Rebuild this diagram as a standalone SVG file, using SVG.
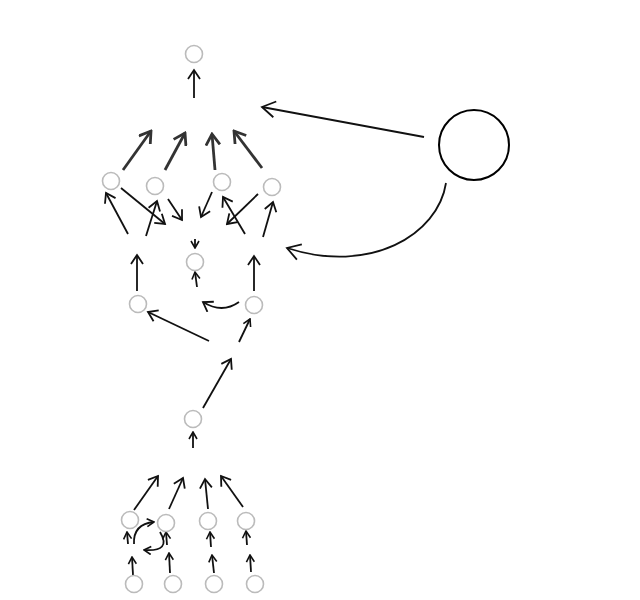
<svg xmlns="http://www.w3.org/2000/svg" width="640" height="600" viewBox="0 0 640 600">
<style>
.n{fill:#fff;stroke:#bbb;stroke-width:1.6}
.e{fill:none;stroke:#111;stroke-width:1.8}
.t{fill:none;stroke:#333;stroke-width:2.8}
</style>
<defs>
<marker id="a" markerUnits="userSpaceOnUse" markerWidth="12" markerHeight="14" refX="10" refY="7" orient="auto" viewBox="0 0 12 14"><path d="M1,1 L10,7 L1,13" fill="none" stroke="#111" stroke-width="1.8"/></marker>
<marker id="s" markerUnits="userSpaceOnUse" markerWidth="9" markerHeight="10" refX="8" refY="5" orient="auto" viewBox="0 0 9 10"><path d="M1,1 L8,5 L1,9" fill="none" stroke="#111" stroke-width="1.6"/></marker>
<marker id="b" markerUnits="userSpaceOnUse" markerWidth="16" markerHeight="18" refX="14" refY="9" orient="auto" viewBox="0 0 16 18"><path d="M1,1 L14,9 L1,17" fill="none" stroke="#111" stroke-width="1.8"/></marker>
<marker id="t" markerUnits="userSpaceOnUse" markerWidth="14" markerHeight="16" refX="12" refY="8" orient="auto" viewBox="0 0 14 16"><path d="M1,1 L12,8 L1,15" fill="none" stroke="#333" stroke-width="2.8"/></marker>
</defs>
<rect width="640" height="600" fill="#fff"/>
<g id="connectors">
<path class="e" d="M194,98 L194,70" marker-end="url(#a)"/>
<path class="t" d="M123,170 L151,131" marker-end="url(#t)"/>
<path class="t" d="M165,170 L185,133" marker-end="url(#t)"/>
<path class="t" d="M215,170 L212,134" marker-end="url(#t)"/>
<path class="t" d="M262,168 L234,131" marker-end="url(#t)"/>
<path class="e" d="M424,137 L262,107" marker-end="url(#b)"/>
<path class="e" d="M446,183 C438,235 370,275 287,248" marker-end="url(#b)"/>
<path class="e" d="M128,234 L106,193" marker-end="url(#a)"/>
<path class="e" d="M121,188 L165,224" marker-end="url(#a)"/>
<path class="e" d="M146,236 L157,201" marker-end="url(#a)"/>
<path class="e" d="M168,199 L182,220" marker-end="url(#a)"/>
<path class="e" d="M212,192 L201,217" marker-end="url(#a)"/>
<path class="e" d="M258,194 L227,224" marker-end="url(#a)"/>
<path class="e" d="M245,234 L223,197" marker-end="url(#a)"/>
<path class="e" d="M263,237 L273,202" marker-end="url(#a)"/>
<path class="e" d="M195,239 L195,248" marker-end="url(#s)"/>
<path class="e" d="M137,291 L137,255" marker-end="url(#a)"/>
<path class="e" d="M254,291 L254,256" marker-end="url(#a)"/>
<path class="e" d="M197,287 L195,272" marker-end="url(#s)"/>
<path class="e" d="M239,302 Q222,314 203,302" marker-end="url(#a)"/>
<path class="e" d="M209,341 L148,312" marker-end="url(#a)"/>
<path class="e" d="M239,342 L250,319" marker-end="url(#s)"/>
<path class="e" d="M203,408 L231,359" marker-end="url(#a)"/>
<path class="e" d="M193,448 L193,432" marker-end="url(#s)"/>
<path class="e" d="M134,510 L158,476" marker-end="url(#a)"/>
<path class="e" d="M169,509 L183,478" marker-end="url(#a)"/>
<path class="e" d="M208,509 L205,479" marker-end="url(#a)"/>
<path class="e" d="M243,507 L221,476" marker-end="url(#a)"/>
<path class="e" d="M128,544 L127,532" marker-end="url(#s)"/>
<path class="e" d="M134,544 Q133,524 154,522" marker-end="url(#s)"/>
<path class="e" d="M160,532 Q172,552 144,550" marker-end="url(#s)"/>
<path class="e" d="M167,545 L166,532" marker-end="url(#s)"/>
<path class="e" d="M211,547 L210,532" marker-end="url(#s)"/>
<path class="e" d="M247,545 L246,531" marker-end="url(#s)"/>
<path class="e" d="M133,575 L132,557" marker-end="url(#s)"/>
<path class="e" d="M170,573 L169,553" marker-end="url(#s)"/>
<path class="e" d="M214,573 L212,555" marker-end="url(#s)"/>
<path class="e" d="M251,572 L250,555" marker-end="url(#s)"/>
</g>
<g id="n0"><circle class="n" cx="194" cy="54" r="8.5"/></g>
<g id="n1"><circle class="n" cx="111" cy="181" r="8.5"/></g>
<g id="n2"><circle class="n" cx="155" cy="186" r="8.5"/></g>
<g id="n3"><circle class="n" cx="222" cy="182" r="8.5"/></g>
<g id="n4"><circle class="n" cx="272" cy="187" r="8.5"/></g>
<g id="n5"><circle class="n" cx="195" cy="262" r="8.5"/></g>
<g id="n6"><circle class="n" cx="138" cy="304" r="8.5"/></g>
<g id="n7"><circle class="n" cx="254" cy="305" r="8.5"/></g>
<g id="n8"><circle class="n" cx="193" cy="419" r="8.5"/></g>
<g id="n9"><circle class="n" cx="130" cy="520" r="8.5"/></g>
<g id="n10"><circle class="n" cx="166" cy="523" r="8.5"/></g>
<g id="n11"><circle class="n" cx="208" cy="521" r="8.5"/></g>
<g id="n12"><circle class="n" cx="246" cy="521" r="8.5"/></g>
<g id="n13"><circle class="n" cx="134" cy="584" r="8.5"/></g>
<g id="n14"><circle class="n" cx="173" cy="584" r="8.5"/></g>
<g id="n15"><circle class="n" cx="214" cy="584" r="8.5"/></g>
<g id="n16"><circle class="n" cx="255" cy="584" r="8.5"/></g>
<g id="big"><circle cx="474" cy="145" r="35" fill="#fff" stroke="#000" stroke-width="2"/></g>
</svg>
